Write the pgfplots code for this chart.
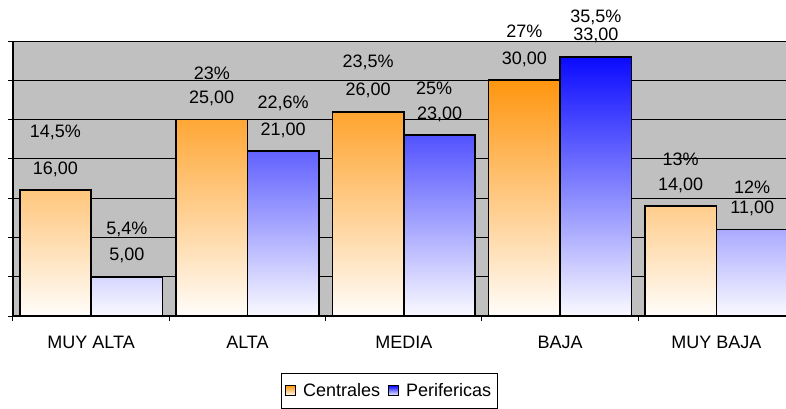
\documentclass[border=0pt]{standalone}
\usepackage{fontspec}
\setmainfont{Liberation Sans}
\usepackage{pgfplots}
\pgfplotsset{compat=1.18}
\definecolor{fondo}{RGB}{192,192,192}
\definecolor{naranja}{RGB}{255,150,15}
\definecolor{naranjamed}{RGB}{253,198,155}
\definecolor{naranjabajo}{RGB}{255,253,250}
\definecolor{azul}{RGB}{10,10,255}
\definecolor{azulmed}{RGB}{188,188,252}
\definecolor{azulbajo}{RGB}{250,250,255}
\newcommand{\fnt}{\fontsize{18}{21}\selectfont}

\begin{document}
\begin{tikzpicture}
\useasboundingbox (-13pt,-92pt) rectangle (773pt,316pt);
\begin{axis}[
  scale only axis, width=773pt, height=275pt,
  xmin=-0.5, xmax=4.445, ymin=0, ymax=35,
  axis background/.style={fill=fondo},
  axis x line*=bottom, axis y line*=left,
  axis line style={line width=1.3pt, black},
  clip=false,
  tick align=outside, major tick length=5pt,
  tick style={black, line width=1pt},
  ytick={0,5,...,35}, yticklabels={},
  ymajorgrids, grid style={black, line width=0.9pt},
  xtick={-0.5,0.5,...,3.5}, xticklabels={},
  extra x ticks={0,1,2,3,4},
  extra x tick labels={MUY ALTA,ALTA,MEDIA,BAJA,MUY BAJA},
  extra x tick style={major tick length=0pt, grid=none},
  xticklabel style={font=\fnt, anchor=base, inner sep=0pt, yshift=-32pt},
  legend columns=2,
  legend style={at={(0.4865,0)}, anchor=north, yshift=-57pt, font=\fnt,
    draw=black, line width=0.8pt, fill=white, inner xsep=4pt, inner ysep=8pt,
    /tikz/every odd column/.append style={column sep=5pt},
    /tikz/every even column/.append style={column sep=6pt}},
  legend image code/.code={\draw[#1, line width=1pt] (0pt,-5pt) rectangle (10pt,5pt);},
  nodes near coords,
  point meta=explicit symbolic,
  every node near coord/.append style={font=\fnt, anchor=base, inner sep=0pt},
]
% Centrales
\addplot[ybar, bar width=0.457, bar shift=-0.2285, draw=black, line width=1.6pt,
  top color=naranja, middle color=naranjamed, bottom color=naranjabajo,
  every node near coord/.append style={yshift=16pt, xshift=-35.75pt}]
  coordinates {(0,16)[16,00] (1,25)[25,00] (2,26)[26,00] (3,30)[30,00] (4,14)[14,00]};
\addlegendentry{Centrales}
% Perifericas
\addplot[ybar, bar width=0.457, bar shift=0.2285, draw=black, line width=1.6pt,
  top color=azul, middle color=azulmed, bottom color=azulbajo,
  every node near coord/.append style={yshift=16pt, xshift=35.75pt}]
  coordinates {(0,5)[5,00] (1,21)[21,00] (2,23)[23,00] (3,33)[33,00] (4,11)[11,00]};
\addlegendentry{Perifericas}
% porcentajes
\addplot[draw=none, mark=none, forget plot]
  coordinates {(-0.2285,22.78)[14,5\%] (0.7715,30.04)[23\%] (1.7715,31.69)[23,5\%]
               (2.7715,35.4)[27\%] (3.7715,19.2)[13\%]};
\addplot[draw=none, mark=none, forget plot]
  coordinates {(0.2285,10.31)[5,4\%] (1.2285,26.47)[22,6\%] (2.1935,28.13)[25\%]
               (3.2285,37.3)[35,5\%] (4.2285,15.65)[12\%]};
\end{axis}
\end{tikzpicture}
\end{document}
